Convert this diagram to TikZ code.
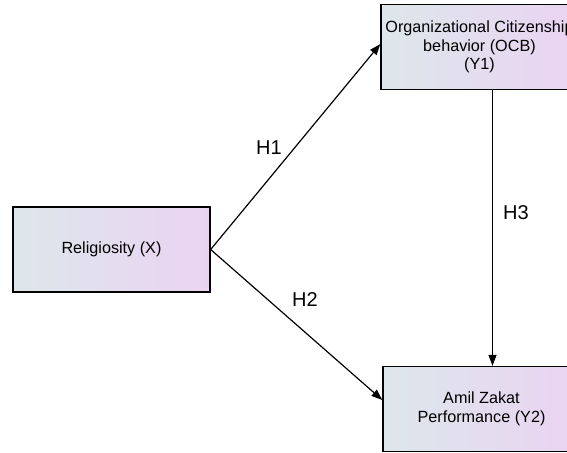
\documentclass[tikz,border=0pt]{standalone}
\usepackage{fontspec}
\setmainfont{Liberation Sans}
\usepackage{tikz}
\usetikzlibrary{arrows.meta}

\definecolor{boxLeft}{RGB}{221,231,235}
\definecolor{boxRight}{RGB}{234,211,242}

\begin{document}
\begin{tikzpicture}[x=1pt,y=-1pt]
            \tikzstyle{myBox}=[draw,line width=1.3pt,left color=boxLeft,right color=boxRight,
                minimum width=197pt,minimum height=85pt,align=center,
                font=\fontsize{16.2}{18.5}\selectfont,inner sep=0pt];
            \tikzstyle{myArr}=[line width=1.2pt,-{Triangle[length=11pt,width=8pt]}];
            \tikzstyle{myLab}=[font=\fontsize{20}{24}\selectfont];
            \useasboundingbox (0,0) rectangle (567,452);
            \clip (0,0) rectangle (567,452);
            \node[myBox] (rel) at (111.5,249.5) {Religiosity (X)};
            \node[myBox] (ocb) at (479.5,47) {Organizational Citizenship\\behavior (OCB)\\(Y1)};
            \node[myBox] (amil) at (481.5,409) {Amil Zakat\\Performance (Y2)};
            \draw[myArr] (rel.east) -- ([yshift=3pt]ocb.west);
            \draw[myArr] (rel.east) -- ([yshift=9pt]amil.west);
            \draw[myArr] ([xshift=13pt]ocb.south) -- ([xshift=11pt]amil.north);
            \node[myLab] (h1) at (269,148) {H1};
            \node[myLab] (h2) at (305,300) {H2};
            \node[myLab] (h3) at (516,213) {H3};
         \end{tikzpicture}
\end{document}
